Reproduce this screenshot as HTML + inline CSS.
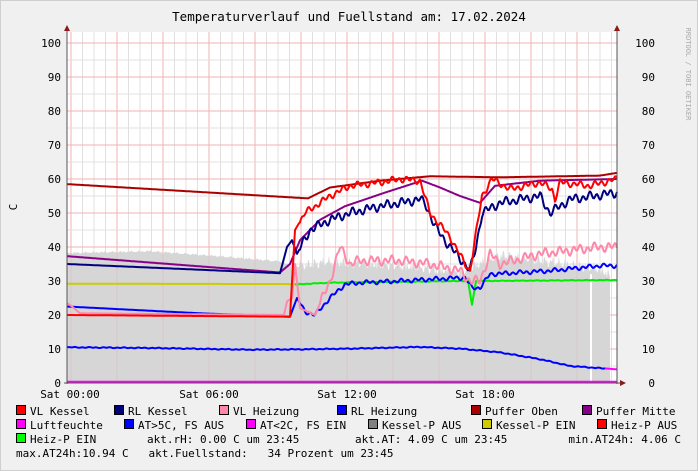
<!DOCTYPE html>
<html><head><meta charset="utf-8">
<style>
html,body{margin:0;padding:0;background:#f0f0f0;}
body{width:698px;height:471px;overflow:hidden;}
svg{display:block;font-family:"DejaVu Sans Mono","Liberation Mono",monospace;}
text{white-space:pre;}
</style></head>
<body>
<svg id="s" width="698" height="471" xmlns="http://www.w3.org/2000/svg">
<rect x="0.5" y="0.5" width="697" height="470" fill="#f0f0f0" stroke="#cfcfcf"/>
<rect x="67" y="32" width="550" height="351" fill="#fff"/>
<g id="grid"></g>
<g id="data"></g>
<text x="349" y="21" font-size="12.5" text-anchor="middle" fill="#000">Temperaturverlauf und Fuellstand am: 17.02.2024</text>
<text transform="translate(17,207) rotate(-90)" font-size="11" text-anchor="middle">C</text>
<text transform="translate(686,74) rotate(90)" font-size="7" text-anchor="middle" fill="#aaa">RRDTOOL / TOBI OETIKER</text>
<g id="labels" font-size="11" fill="#000"></g>
<g font-size="11" fill="#000">
<text x="70" y="398" text-anchor="middle">Sat 00:00</text>
<text x="209" y="398" text-anchor="middle">Sat 06:00</text>
<text x="347" y="398" text-anchor="middle">Sat 12:00</text>
<text x="485" y="398" text-anchor="middle">Sat 18:00</text>
</g>
<g id="legend" font-size="11" fill="#000"></g>
</svg>
<script>
var NS="http://www.w3.org/2000/svg";
function el(p,t,a,txt){var e=document.createElementNS(NS,t);for(var k in a)e.setAttribute(k,a[k]);if(txt!=null)e.textContent=txt;document.getElementById(p).appendChild(e);return e;}
function Y(v){return 383-3.4*v;}
for(var x=71-46;x<=617;x+=11.5){if(x<67)continue;var maj=Math.abs(((x-71)/46)-Math.round((x-71)/46))<0.01;
 el("grid","line",{x1:x,x2:x,y1:32,y2:383,stroke:maj?"#f2b0b0":"#e0e0e0","stroke-width":1});}
for(var v=5;v<=100;v+=5){el("grid","line",{x1:67,x2:617,y1:Y(v),y2:Y(v),stroke:(v%10==0)?"#f2b0b0":"#e0e0e0","stroke-width":1});}
for(var v=0;v<=100;v+=10){el("labels","text",{x:61,y:Y(v)+4,"text-anchor":"end"},String(v));el("labels","text",{x:655,y:Y(v)+4,"text-anchor":"end"},String(v));}
function interp(pts,x){if(x<=pts[0][0])return pts[0][1];for(var i=1;i<pts.length;i++){if(x<=pts[i][0]){var a=pts[i-1],b=pts[i];return a[1]+(b[1]-a[1])*(x-a[0])/(b[0]-a[0]);}}return pts[pts.length-1][1];}
function noise(x,amp,seed){return amp*(Math.sin(x*0.9+seed)*0.6+Math.sin(x*0.37+seed*2)*0.4);}
function series(pts,color,w,amp,nstart,seed,x0,x1){x0=x0||67;x1=x1||617;var d="";for(var x=x0;x<=x1;x++){var v=interp(pts,x);if(x>=nstart)v+=noise(x,amp,seed);d+=(x==x0?"M":"L")+x+","+Y(v).toFixed(1);}return el("data","path",{d:d,fill:"none",stroke:color,"stroke-width":w,"stroke-linejoin":"round"});}
(function(){var pts=[[67,38],[150,38.5],[220,37],[280,35.5],[300,33],[330,34],[400,33],[460,31],[500,36],[600,32],[610,30]];
var d="M67,383";for(var x=67;x<=610;x++){var v=interp(pts,x);if(x>290)v+=Math.abs(noise(x*1.7,3,1))*1.2;else v+=Math.abs(noise(x*1.3,0.6,2));d+="L"+x+","+Y(v).toFixed(1);}d+="L610,383Z";
el("data","path",{d:d,fill:"#d6d6d6"});el("data","rect",{x:590,y:Y(32),width:2,height:383-Y(32),fill:"#fff"});})();
for(var x=71;x<=617;x+=46){el("data","line",{x1:x,x2:x,y1:Y(38),y2:383,stroke:"#e8a0a0","stroke-width":1,opacity:0.3});}
series([[67,10.5],[150,10.3],[250,9.8],[300,9.9],[350,10.1],[420,10.6],[460,10.1],[500,9],[540,7],[570,5],[617,4]],"#0000ff",2,0.15,67,3,67,605);
series([[605,4.3],[617,4]],"#ff00ff",2,0,999,0,605,617);
el("data","line",{x1:67,x2:617,y1:382,y2:382,stroke:"#ff00ff","stroke-width":2.5});
series([[67,29.2],[295,29.1]],"#cccc00",2,0,999,0,67,295);
series([[295,29],[330,29.5],[460,30],[468,30],[472,23],[476,30],[617,30.3]],"#00ee00",2,0.1,300,2,295,617);
series([[67,22.5],[200,20.5],[290,19.5],[297,25],[305,21],[315,20],[330,25],[345,29],[360,29.5],[400,30],[430,30.5],[465,31],[472,28],[480,28],[490,32],[550,33],[600,34.5],[617,34.5]],"#0000ff",2,0.7,300,5);
series([[67,23.5],[72,22.5],[80,20.5],[284,20],[287,24],[292,25],[295,35],[300,22],[315,20],[330,30],[340,40],[350,35],[360,36],[400,36],[430,35],[460,33],[470,30],[480,30],[490,38],[500,35],[540,38],[600,40],[617,40]],"#ff88aa",2,1.6,320,7);
series([[67,58.5],[308,54.3],[330,57.5],[380,59.5],[430,60.8],[500,60.5],[600,61],[617,61.8]],"#aa0000",2,0,999,0);
series([[67,37.3],[280,32.5],[290,35],[300,42],[320,48],[345,52],[385,56],[422,59.5],[440,57.5],[460,55],[480,53],[495,58],[540,59.5],[617,60]],"#880088",2,0,999,0);
series([[67,35],[280,32.3],[287,40],[292,42],[297,38],[310,45],[330,48],[350,50],[380,52],[420,54],[425,53],[435,46],[450,40],[465,35],[470,33],[476,40],[482,50],[500,53],[540,55],[550,50],[570,54],[617,56]],"#000080",2,1.5,300,11);
series([[67,20],[290,19.5],[295,45],[305,50],[330,55],[350,58],[380,59],[400,60],[420,59.5],[430,50],[450,43],[465,35],[470,33],[482,55],[492,60],[510,57],[540,59],[552,57],[555,54],[560,59],[590,58],[617,60]],"#ff0000",2,1.1,300,13);
el("data","line",{x1:67,x2:67,y1:28,y2:384,stroke:"#555","stroke-width":1});
el("data","line",{x1:617,x2:617,y1:28,y2:384,stroke:"#555","stroke-width":1});
el("data","line",{x1:64,x2:622,y1:383,y2:383,stroke:"#555","stroke-width":1});
el("data","path",{d:"M64,31L67,25L70,31Z",fill:"#8b1a1a"});
el("data","path",{d:"M614,31L617,25L620,31Z",fill:"#8b1a1a"});
el("data","path",{d:"M620,380L626,383L620,386Z",fill:"#8b1a1a"});
var L=[["VL Kessel","#ff0000",16,411],["RL Kessel","#000080",114,411],["VL Heizung","#ff88aa",219,411],["RL Heizung","#0000ff",337,411],["Puffer Oben","#aa0000",471,411],["Puffer Mitte","#880088",582,411],
["Luftfeuchte","#ff00ff",16,425],["AT>5C, FS AUS","#0000ff",124,425],["AT<2C, FS EIN","#ff00ff",246,425],["Kessel-P AUS","#808080",368,425],["Kessel-P EIN","#cccc00",482,425],["Heiz-P AUS","#ff0000",597,425],
["Heiz-P EIN","#00ff00",16,439]];
L.forEach(function(l){el("legend","rect",{x:l[2]+0.5,y:l[3]-5.5,width:9,height:9,fill:l[1],stroke:"#000","stroke-width":1});el("legend","text",{x:l[2]+14,y:l[3]+4},l[0]);});
el("legend","text",{x:147,y:443},"akt.rH: 0.00 C um 23:45");
el("legend","text",{x:355,y:443},"akt.AT: 4.09 C um 23:45");
el("legend","text",{x:681,y:443,"text-anchor":"end"},"min.AT24h: 4.06 C");
el("legend","text",{x:16,y:457},"max.AT24h:10.94 C   akt.Fuellstand:   34 Prozent um 23:45");
</script>
</body></html>
